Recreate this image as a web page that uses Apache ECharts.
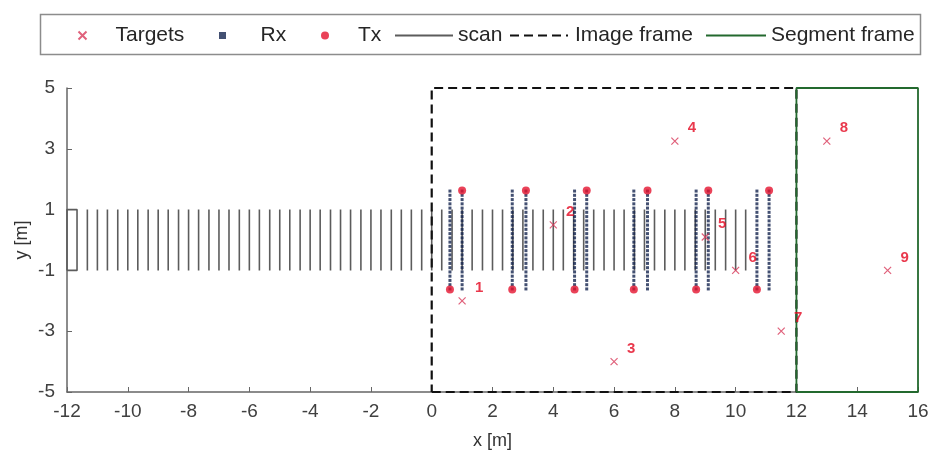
<!DOCTYPE html>
<html lang="en">
<head>
    <meta charset="UTF-8">
    <title>Scan geometry</title>
    <style>
        html, body { margin: 0; padding: 0; background: #fff; }
    </style>
</head>
<body>

<div id="main" style="width: 930px;height:455px;"></div>

<script src="https://cdn.jsdelivr.net/npm/echarts@6/dist/echarts.min.js" charset="utf-8"></script>

<script type="text/javascript">

    // targets (x, y, label)
    var targetX = [1, 4, 6, 8, 9, 10, 11.5, 13, 15];
    var targetY = [-2, 0.5, -4, 3.25, 0.1, -1, -3, 3.25, -1];
    var targetName = ['1', '2', '3', '4', '5', '6', '7', '8', '9'];

    // Tx positions, top row and bottom row
    var txTopX = [1.0, 3.1, 5.1, 7.1, 9.1, 11.1];
    var txTopY = 1.63;
    var txBotX = [0.6, 2.65, 4.7, 6.65, 8.7, 10.7];
    var txBotY = -1.63;

    // Rx elements along each column
    var rxY = [-1.61, -1.47, -1.33, -1.19, -1.05, -0.91, -0.77, -0.63, -0.49, -0.35, -0.21, -0.07,
        0.07, 0.21, 0.35, 0.49, 0.63, 0.77, 0.91, 1.05, 1.19, 1.33, 1.47, 1.61];

    // scan : first closed box, then single vertical strokes
    var scanBoxX = [-12, -11.67];
    var scanX = [-11.33, -11, -10.67, -10.33, -10, -9.67, -9.33, -9, -8.67, -8.33, -8, -7.67, -7.33, -7,
        -6.67, -6.33, -6, -5.67, -5.33, -5, -4.67, -4.33, -4, -3.67, -3.33, -3, -2.67, -2.33, -2, -1.67,
        -1.33, -1, -0.67, -0.33, 0, 0.33, 0.67, 1, 1.33, 1.67, 2, 2.33, 2.67, 3, 3.33, 3.67, 4, 4.33,
        4.67, 5, 5.33, 5.67, 6, 6.33, 6.67, 7, 7.33, 7.67, 8, 8.33, 8.67, 9, 9.33, 9.67, 10, 10.33];
    var scanYmin = -1;
    var scanYmax = 1;

    // frames [xmin, xmax, ymin, ymax]
    var imageFrame = [0, 12, -5, 5];
    var segmentFrame = [12, 16, -5, 5];

    var yTicks = [-5, -3, -1, 1, 3, 5];

    var font = 'Liberation Sans';

    function rect(f) {
        return [[f[0], f[2]], [f[1], f[2]], [f[1], f[3]], [f[0], f[3]], [f[0], f[2]]];
    }

    var targets = [];
    for (var i = 0; i < targetX.length; i++) {
        targets.push({value: [targetX[i], targetY[i]], name: targetName[i]});
    }

    var tx = [];
    for (var i = 0; i < txTopX.length; i++) {
        tx.push([txTopX[i], txTopY]);
        tx.push([txBotX[i], txBotY]);
    }

    var rx = [];
    var rxCols = txTopX.concat(txBotX);
    for (var c = 0; c < rxCols.length; c++) {
        for (var j = 0; j < rxY.length; j++) {
            rx.push([rxCols[c], rxY[j]]);
        }
    }

    var scan = [[scanBoxX[0], scanYmin], [scanBoxX[0], scanYmax], [scanBoxX[1], scanYmax],
        [scanBoxX[1], scanYmin], [scanBoxX[0], scanYmin], ['-', '-']];
    for (var i = 0; i < scanX.length; i++) {
        scan.push([scanX[i], scanYmin]);
        scan.push([scanX[i], scanYmax]);
        scan.push(['-', '-']);
    }

    var myChart = echarts.init(document.getElementById('main'));

    // one legend per entry so every icon/text sits where the figure has it
    function legendItem(item, left, w, h, padLeft) {
        return {
            left: left,
            top: 20,
            itemWidth: w,
            itemHeight: h,
            textStyle: {fontSize: 21, color: '#262626', fontFamily: font, padding: [0, 0, 0, padLeft]},
            data: [item]
        };
    }

    var noSymbol = {opacity: 0};

    var option = {
        animation: false,
        textStyle: {fontFamily: font},
        graphic: [{
            type: 'rect',
            shape: {x: 40.5, y: 14.5, width: 880, height: 40},
            style: {fill: '#fff', stroke: '#8c8c8c', lineWidth: 1.5},
            z: -1
        }],
        legend: [
            legendItem('Targets', 71, 14, 8, 21),
            legendItem({name: 'Rx', icon: 'path://M0,0H10V10H0Z'}, 214, 12, 7, 27),
            legendItem('Tx', 316, 14, 8, 21),
            legendItem({name: 'scan', itemStyle: noSymbol}, 389, 58, 12, 0),
            legendItem({name: 'Image frame', itemStyle: noSymbol}, 504, 58, 12, 2),
            legendItem({name: 'Segment frame', itemStyle: noSymbol}, 700, 60, 12, 0)
        ],
        grid: {
            left: 67,
            right: 12,
            top: 88,
            bottom: 63,
            outerBoundsMode: 'none'
        },
        xAxis: {
            type: 'value',
            min: -12,
            max: 16,
            interval: 2,
            name: 'x [m]',
            nameLocation: 'middle',
            nameGap: 40,
            nameTextStyle: {fontSize: 18, color: '#333'},
            splitLine: {show: false},
            axisLine: {onZero: false, lineStyle: {color: '#666', width: 1.5}},
            axisTick: {inside: true, length: 5, lineStyle: {color: '#666'}},
            axisLabel: {fontSize: 19, color: '#404040', margin: 10}
        },
        yAxis: {
            type: 'value',
            min: -5,
            max: 5,
            name: 'y [m]',
            nameLocation: 'middle',
            nameGap: 36,
            nameMoveOverlap: false,
            nameTextStyle: {fontSize: 18, color: '#333'},
            splitLine: {show: false},
            axisLine: {onZero: false, lineStyle: {color: '#666', width: 1.5}},
            axisTick: {inside: true, length: 5, lineStyle: {color: '#666'}, customValues: yTicks},
            axisLabel: {fontSize: 19, color: '#404040', margin: 12, customValues: yTicks}
        },
        series: [{
            name: 'scan',
            type: 'line',
            data: scan,
            symbol: 'none',
            connectNulls: false,
            lineStyle: {color: '#5c5c5c', width: 1.6},
            itemStyle: {color: '#5c5c5c'},
            z: 1
        }, {
            name: 'Image frame',
            type: 'line',
            data: rect(imageFrame),
            symbol: 'none',
            lineStyle: {color: '#111', width: 2.2, type: [9, 5]},
            itemStyle: {color: '#111'},
            z: 2
        }, {
            name: 'Segment frame',
            type: 'line',
            data: rect(segmentFrame),
            symbol: 'none',
            lineStyle: {color: '#23692e', width: 1.8},
            itemStyle: {color: '#23692e'},
            z: 2
        }, {
            name: 'Rx',
            type: 'scatter',
            data: rx,
            symbol: 'rect',
            symbolSize: 3,
            itemStyle: {color: '#14244f'},
            z: 3
        }, {
            name: 'Tx',
            type: 'scatter',
            data: tx,
            symbol: 'circle',
            symbolSize: 8,
            itemStyle: {color: '#e5132e'},
            z: 4
        }, {
            name: 'Targets',
            type: 'scatter',
            data: targets,
            symbol: 'path://M0,0L10,10M10,0L0,10',
            symbolSize: 7,
            itemStyle: {color: 'none', borderColor: '#d83a5a', borderWidth: 1.2},
            label: {
                show: true,
                position: 'inside',
                offset: [17, -13],
                formatter: '{b}',
                color: '#e3061f',
                fontWeight: 'bold',
                fontSize: 15
            },
            z: 5
        }]
    };

    myChart.setOption(option);

</script>
</body>
</html>
